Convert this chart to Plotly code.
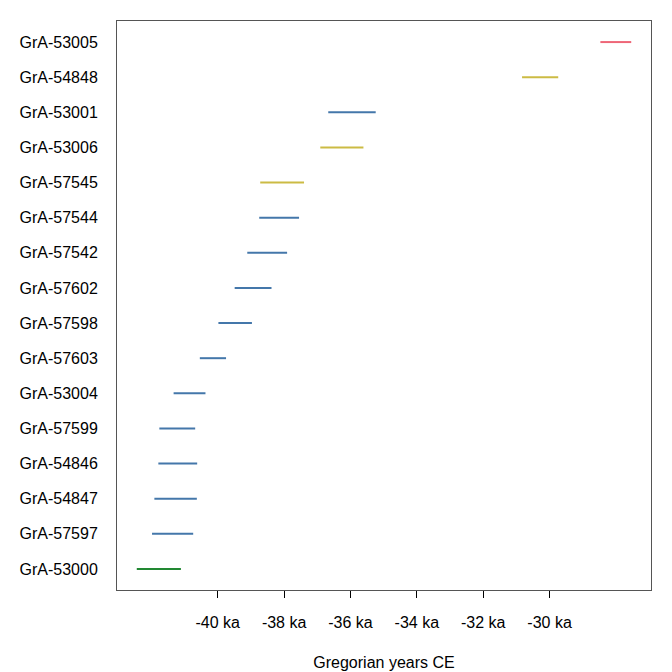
import plotly.graph_objects as go

# radiocarbon samples, top row first
samples = ["GrA-53005", "GrA-54848", "GrA-53001", "GrA-53006", "GrA-57545",
           "GrA-57544", "GrA-57542", "GrA-57602", "GrA-57598", "GrA-57603",
           "GrA-53004", "GrA-57599", "GrA-54846", "GrA-54847", "GrA-57597",
           "GrA-53000"]
# calibrated interval, Gregorian years CE
start_yr = [-28470, -30830, -36670, -36910, -38720, -38750, -39110, -39490,
            -39980, -40540, -41330, -41760, -41790, -41910, -41980, -42440]
end_yr = [-27540, -29740, -35240, -35610, -37400, -37550, -37910, -38380,
          -38970, -39750, -40370, -40680, -40620, -40630, -40740, -41110]
groups = ["red", "yellow", "blue", "yellow", "yellow", "blue", "blue", "blue",
          "blue", "blue", "blue", "blue", "blue", "blue", "blue", "green"]
tick_vals = [-40000, -38000, -36000, -34000, -32000, -30000]
tick_text = ["-40 ka", "-38 ka", "-36 ka", "-34 ka", "-32 ka", "-30 ka"]

palette = {"red": "#EE6677", "yellow": "#CCBB44", "blue": "#4477AA", "green": "#228833"}

fig = go.Figure()
for s, a, b, g in zip(samples, start_yr, end_yr, groups):
    fig.add_trace(go.Scatter(x=[a, b], y=[s, s], mode="lines",
                             line=dict(color=palette[g], width=2),
                             showlegend=False, hoverinfo="x+y"))

# R-style 4% padding of the data range
lo, hi = min(start_yr), max(end_yr)
pad = 0.04 * (hi - lo)
n = len(samples)

font = dict(family="Liberation Sans, Arial, sans-serif", size=16, color="black")
fig.update_layout(
    width=672, height=672,
    margin=dict(l=109, r=29, t=13, b=87),
    plot_bgcolor="white", paper_bgcolor="white",
    font=font,
    xaxis=dict(range=[lo - pad, hi + pad], tickvals=tick_vals, ticktext=tick_text,
               ticks="outside", ticklen=7, tickcolor="black", tickwidth=1,
               ticklabelstandoff=11,
               showgrid=False, zeroline=False, showline=True, linecolor="#555",
               linewidth=1, mirror=True,
               title=dict(text="Gregorian years CE", standoff=26, font=font)),
    yaxis=dict(type="category", categoryorder="array", categoryarray=samples,
               range=[n - 1 + 0.6, -0.6], ticks="", ticklabelstandoff=15,
               showgrid=False, zeroline=False, showline=True, linecolor="#555",
               linewidth=1, mirror=True),
)

fig.write_html("out.html")
